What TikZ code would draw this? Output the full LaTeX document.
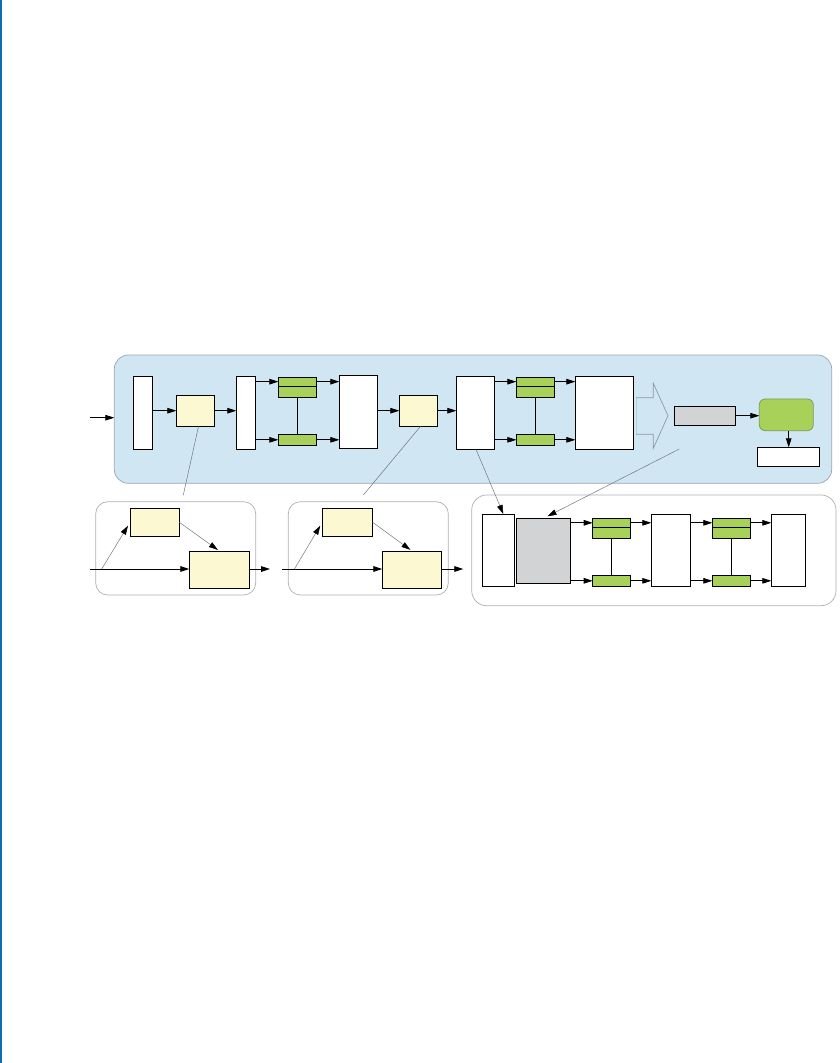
\documentclass[tikz,border=0pt]{standalone}
\usetikzlibrary{arrows.meta,calc}
\definecolor{bgblue}{HTML}{D0E6F3}
\definecolor{bgedge}{HTML}{9AA5B1}
\definecolor{yel}{HTML}{FCF9D2}
\definecolor{grn}{HTML}{A8D15A}
\definecolor{grnedge}{HTML}{7F9A5A}
\definecolor{boxgray}{HTML}{D2D3D5}
\definecolor{linegray}{HTML}{707880}
\definecolor{frame}{HTML}{B0B0B0}
\definecolor{sideblue}{HTML}{0B6FB6}
\definecolor{arredge}{HTML}{8C99A6}
\definecolor{arrleft}{HTML}{B4CCDC}
\begin{document}
\begin{tikzpicture}[x=1pt,y=-1pt,
  wbox/.style={draw=black, fill=white, line width=0.8pt, inner sep=0pt, outer sep=0pt},
  ybox/.style={wbox, fill=yel},
  gbox/.style={wbox, fill=grn},
  graybox/.style={wbox, fill=boxgray},
  arr/.style={-{Triangle[length=9pt,width=5.6pt]}, line width=0.8pt},
  callout/.style={draw=linegray, line width=0.5pt},
  calloutarr/.style={callout, -{Triangle[length=9pt,width=5.6pt,color=black]}},
  panel/.style={draw=frame, line width=0.7pt, rounded corners=12pt, inner sep=0pt, outer sep=0pt}
]
\useasboundingbox (0,0) rectangle (839,1063);
\fill[sideblue] (0,0) rectangle (2,1063);

% ---------- top band ----------
\node[draw=bgedge, fill=bgblue, line width=0.7pt, rounded corners=14pt, inner sep=0pt, outer sep=0pt,
      minimum width=717.4pt, minimum height=128.3pt] (bg) at (473,419.15) {};
\coordinate (in) at (90,417.7);
\draw[arr] (in) -- (in -| bg.west);

\node[wbox, minimum width=19.4pt, minimum height=73.3pt] (b1) at (143,412.7) {};
\node[ybox, minimum width=38.4pt, minimum height=31.3pt] (y1) at (195.5,410.7) {};
\node[wbox, minimum width=19.4pt, minimum height=73.3pt] (b2) at (246,412.7) {};
\node[gbox, minimum width=38.4pt, minimum height=8.7pt] (g1a) at (297.5,381.65) {};
\node[gbox, minimum width=38.4pt, minimum height=11.3pt] (g1b) at (297.5,391.65) {};
\node[gbox, minimum width=38.4pt, minimum height=11pt] (g1c) at (297.5,439.8) {};
\node[wbox, minimum width=38pt, minimum height=73.3pt] (b3) at (358.3,411.7) {};
\node[ybox, minimum width=38.4pt, minimum height=31.3pt] (y2) at (418.5,410.7) {};
\node[wbox, minimum width=38pt, minimum height=73.3pt] (b4) at (475.3,412.7) {};
\node[gbox, minimum width=38pt, minimum height=8.7pt] (g2a) at (535.3,381.65) {};
\node[gbox, minimum width=38pt, minimum height=11.3pt] (g2b) at (535.3,391.65) {};
\node[gbox, minimum width=38pt, minimum height=11pt] (g2c) at (535.3,439.8) {};
\node[wbox, minimum width=58pt, minimum height=73.3pt] (b5) at (604.3,412.7) {};

% hollow arrow
\fill[bgblue] (636,397.7) -- (653.3,397.7) -- (653.3,383.3) -- (668,415.7) -- (653.3,448.3) -- (653.3,434.3) -- (636,434.3) -- cycle;
\draw[arredge, line width=0.7pt] (636,397.7) -- (653.3,397.7) -- (653.3,383.3) -- (668,415.7) -- (653.3,448.3) -- (653.3,434.3) -- (636,434.3);
\draw[arrleft, line width=1.2pt] (636.4,397.7) -- (636.4,434.3);

\node[graybox, minimum width=61pt, minimum height=19.3pt] (gr) at (704.8,415.7) {};
\node[draw=grnedge, fill=grn, line width=0.8pt, rounded corners=6pt, inner sep=0pt, outer sep=0pt,
      minimum width=54pt, minimum height=31.7pt] (gg) at (786.3,414.8) {};
\node[wbox, minimum width=62pt, minimum height=19pt] (wb) at (788.3,456.8) {};

\draw[arr] (b1.east |- y1.west) -- (y1.west);
\draw[arr] (y1.east) -- (y1.east -| b2.west);
\draw[arr] (b2.east |- g1a.west) -- (g1a.west);
\draw[arr] (g1a.east) -- (g1a.east -| b3.west);
\draw[arr] (b2.east |- g1c.west) -- (g1c.west);
\draw[arr] (g1c.east) -- (g1c.east -| b3.west);
\draw[line width=0.8pt] (g1b.south) -- (g1c.north);
\draw[arr] (b3.east |- y2.west) -- (y2.west);
\draw[arr] (y2.east) -- (y2.east -| b4.west);
\draw[arr] (b4.east |- g2a.west) -- (g2a.west);
\draw[arr] (g2a.east) -- (g2a.east -| b5.west);
\draw[arr] (b4.east |- g2c.west) -- (g2c.west);
\draw[arr] (g2c.east) -- (g2c.east -| b5.west);
\draw[line width=0.8pt] (g2b.south) -- (g2c.north);
\draw[arr] (gr.east) -- (gr.east -| gg.west);
\draw[arr] ([xshift=2.4pt]gg.south) -- ([xshift=0.4pt]wb.north);

% ---------- bottom panel 1 ----------
\node[panel, minimum width=160pt, minimum height=93.3pt] (p1) at (175.7,548.35) {};
\node[ybox, minimum width=49.3pt, minimum height=28pt] (ys1) at (154.7,522.3) {};
\node[ybox, minimum width=60.4pt, minimum height=37.3pt] (yb1) at (219.5,569.7) {};
\coordinate (in1) at (90,569);
\coordinate (sp1) at (101.7,569);
\coordinate (out1) at (270,569);
\draw[arr] (in1) -- (in1 -| yb1.west);
\draw[calloutarr, shorten >=4pt] (sp1) -- (ys1.west);
\draw[calloutarr, shorten >=2pt] (ys1.east) -- (yb1.north);
\draw[arr] (yb1.east |- out1) -- (out1);

% ---------- bottom panel 2 ----------
\node[panel, minimum width=160pt, minimum height=93.3pt] (p2) at (368.3,548.35) {};
\node[ybox, minimum width=50.4pt, minimum height=28pt] (ys2) at (347.5,522.3) {};
\node[ybox, minimum width=59.4pt, minimum height=37.3pt] (yb2) at (412,569.7) {};
\coordinate (in2) at (281.7,569);
\coordinate (sp2) at (294.4,569);
\coordinate (out2) at (463.3,569);
\draw[arr] (in2) -- (in2 -| yb2.west);
\draw[calloutarr, shorten >=4pt] (sp2) -- (ys2.west);
\draw[calloutarr, shorten >=2pt] (ys2.east) -- (yb2.north);
\draw[arr] (yb2.east |- out2) -- (out2);

% ---------- bottom panel 3 ----------
\node[panel, rounded corners=15pt, minimum width=364.3pt, minimum height=110.7pt] (p3) at (653.85,550.35) {};
\node[wbox, minimum width=32pt, minimum height=72.7pt] (wa) at (498.3,550.3) {};
\node[graybox, minimum width=53.6pt, minimum height=65pt] (gb) at (543.5,550.8) {};
\node[gbox, minimum width=37.6pt, minimum height=9pt] (g3a) at (611.5,522.8) {};
\node[gbox, minimum width=37.6pt, minimum height=11pt] (g3b) at (611.5,532.8) {};
\node[gbox, minimum width=37.6pt, minimum height=11pt] (g3c) at (611.5,580.8) {};
\node[wbox, minimum width=39pt, minimum height=72.7pt] (wm) at (670.8,550.3) {};
\node[gbox, minimum width=38pt, minimum height=9pt] (g4a) at (731.3,522.8) {};
\node[gbox, minimum width=38pt, minimum height=11pt] (g4b) at (731.3,532.8) {};
\node[gbox, minimum width=38pt, minimum height=11pt] (g4c) at (731.3,580.8) {};
\node[wbox, minimum width=34pt, minimum height=72.7pt] (wc) at (788.3,550.3) {};

\draw[arr] (gb.east |- g3a.west) -- (g3a.west);
\draw[arr] (g3a.east) -- (g3a.east -| wm.west);
\draw[arr] (gb.east |- g3c.west) -- (g3c.west);
\draw[arr] (g3c.east) -- (g3c.east -| wm.west);
\draw[line width=0.8pt] (g3b.south) -- (g3c.north);
\draw[arr] (wm.east |- g4a.west) -- (g4a.west);
\draw[arr] (g4a.east) -- (g4a.east -| wc.west);
\draw[arr] (wm.east |- g4c.west) -- (g4c.west);
\draw[arr] (g4c.east) -- (g4c.east -| wc.west);
\draw[line width=0.8pt] (g4b.south) -- (g4c.north);

% ---------- callout lines ----------
\coordinate (c1) at (183.3,495);
\coordinate (c2) at (363.3,495);
\coordinate (c3) at (679.3,449);
\draw[callout] ([xshift=3pt]y1.south) -- (c1);
\draw[callout] ([xshift=2pt]y2.south) -- (c2);
\draw[calloutarr] ([xshift=0.7pt]b4.south) -- ([xshift=5pt]wa.north);
\draw[calloutarr, shorten >=4.5pt] (c3) -- (gb.north);
\end{tikzpicture}
\end{document}
